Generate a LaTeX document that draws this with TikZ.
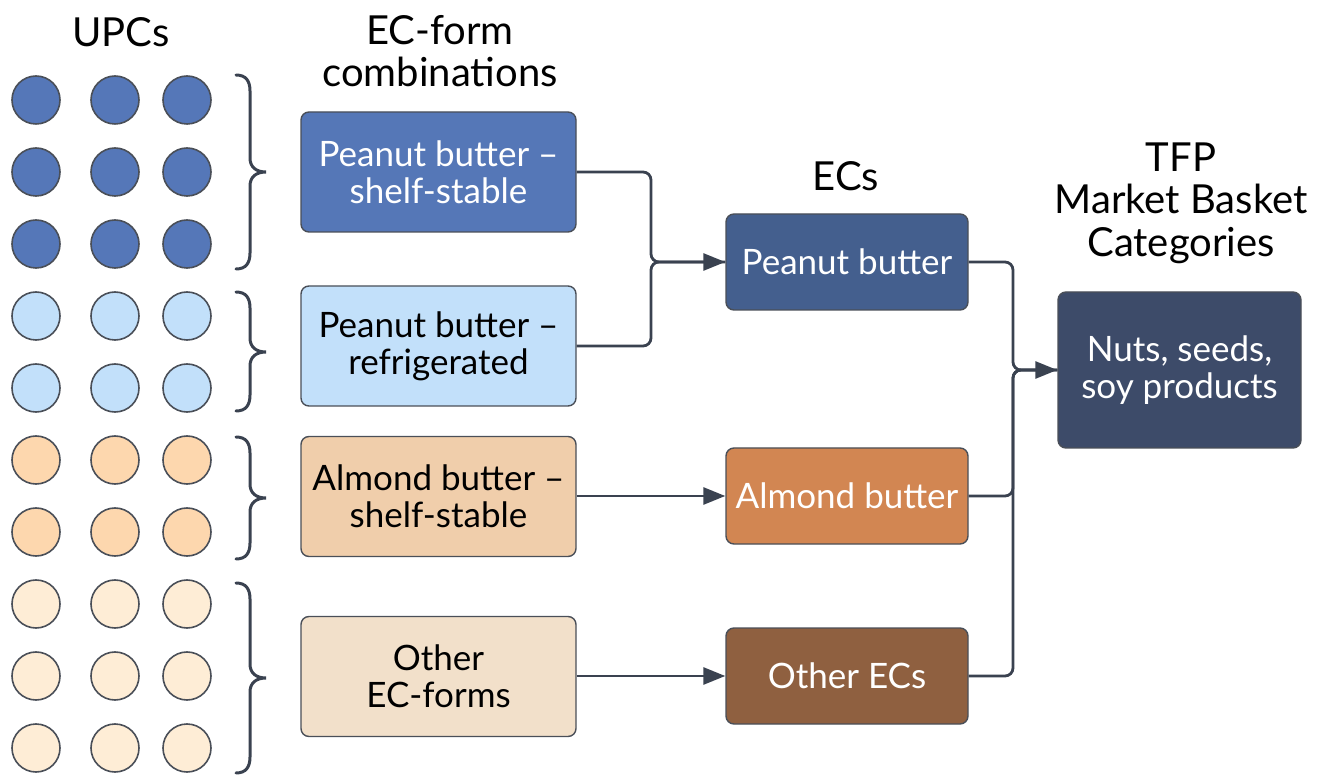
\documentclass[tikz,border=0pt]{standalone}
\usepackage{fontspec}
\setmainfont{Lato}
\usetikzlibrary{arrows.meta}
\definecolor{cdark}{HTML}{5577B8}
\definecolor{clight}{HTML}{C2E0FA}
\definecolor{corange}{HTML}{FDD7AE}
\definecolor{ccream}{HTML}{FEEDD6}
\definecolor{bdark}{HTML}{5577B7}
\definecolor{blight}{HTML}{C2E0FA}
\definecolor{borange}{HTML}{F0CEAB}
\definecolor{bcream}{HTML}{F2E0CA}
\definecolor{epb}{HTML}{445F8E}
\definecolor{eab}{HTML}{D28652}
\definecolor{eoth}{HTML}{8F6040}
\definecolor{enuts}{HTML}{3D4B69}
\definecolor{lncol}{HTML}{3A4250}
\definecolor{bdcol}{HTML}{4A4F58}
\newcommand{\mybrace}[3]{%
  \draw[bracestyle] (236,#1) .. controls (246,#1) and (250,{#1+6}) .. (250,{#1+16})
    -- (250,{#2-14}) .. controls (250,{#2-5}) and (256,#2) .. (266,#2)
    .. controls (256,#2) and (250,{#2+5}) .. (250,{#2+14})
    -- (250,{#3-16}) .. controls (250,{#3-6}) and (246,#3) .. (236,#3);}
\begin{document}
\begin{tikzpicture}[x=1pt,y=-1pt,
  dot/.style={circle,draw=bdcol,line width=1.6pt,minimum size=48pt,inner sep=0pt},
  box/.style={rectangle,rounded corners=8pt,draw=bdcol,line width=1.4pt,align=center,inner sep=0pt,font=\fontsize{35}{37}\selectfont},
  formbox/.style={box,minimum width=275pt,minimum height=120pt},
  ecbox/.style={box,minimum width=242pt,minimum height=96pt,text=white},
  title/.style={align=center,font=\fontsize{40}{42.5}\selectfont},
  conn/.style={draw=lncol,line width=2.8pt,rounded corners=8pt},
  arr/.style={conn,-{Triangle[length=22pt,width=17pt]}},
  bracestyle/.style={draw=lncol,line width=3pt,line cap=round}]
\useasboundingbox (0,0) rectangle (1326,775);
% titles
\node[title] (tupc) at (121,32) {UPCs};
\node[title] (tecf) at (440,51) {EC-form\\combinations};
\node[title] (tec) at (846,176) {ECs};
\node[title] (ttfp) at (1181,203) {TFP\\Market Basket\\Categories};
% dots
\foreach \r/\yy/\c in {1/100/cdark,2/172/cdark,3/244/cdark,4/316/clight,5/388/clight,6/460/corange,7/532/corange,8/604/ccream,9/676/ccream,10/748/ccream}{
  \node[dot,fill=\c] (d\r a) at (36,\yy) {};
  \node[dot,fill=\c] (d\r b) at (115,\yy) {};
  \node[dot,fill=\c] (d\r c) at (187,\yy) {};
}
% braces
\mybrace{75}{172}{269}
\mybrace{292}{352}{411}
\mybrace{437}{498}{559}
\mybrace{583}{678}{773}
% form boxes
\node[formbox,fill=bdark,text=white] (b1) at (438.5,172) {Peanut butter --\\shelf-stable};
\node[formbox,fill=blight] (b2) at (438.5,346) {Peanut butter --\\refrigerated};
\node[formbox,fill=borange] (b3) at (438.5,496.5) {Almond butter --\\shelf-stable};
\node[formbox,fill=bcream] (b4) at (438.5,676.5) {Other\\EC-forms};
% EC boxes
\node[ecbox,fill=epb] (pb) at (847,262) {Peanut butter};
\node[ecbox,fill=eab] (ab) at (847,496) {Almond butter};
\node[ecbox,fill=eoth] (oe) at (847,676) {Other ECs};
\node[box,fill=enuts,text=white,minimum width=243pt,minimum height=156pt] (nuts) at (1179.5,370) {Nuts, seeds,\\soy products};
% junctions
\coordinate (j1) at (651,262);
\coordinate (j2) at (1013,370);
\draw[conn] (b2.east) -| (j1) -- (pb.west);
\draw[arr] (b1.east) -| (j1) -- (pb.west);
\draw[arr] (b3.east |- ab.west) -- (ab.west);
\draw[arr] (b4.east |- oe.west) -- (oe.west);
\draw[conn] (ab.east) -| (j2) -- (nuts.west);
\draw[conn] (oe.east) -| (j2) -- (nuts.west);
\draw[arr] (pb.east) -| (j2) -- (nuts.west);
\end{tikzpicture}
\end{document}
